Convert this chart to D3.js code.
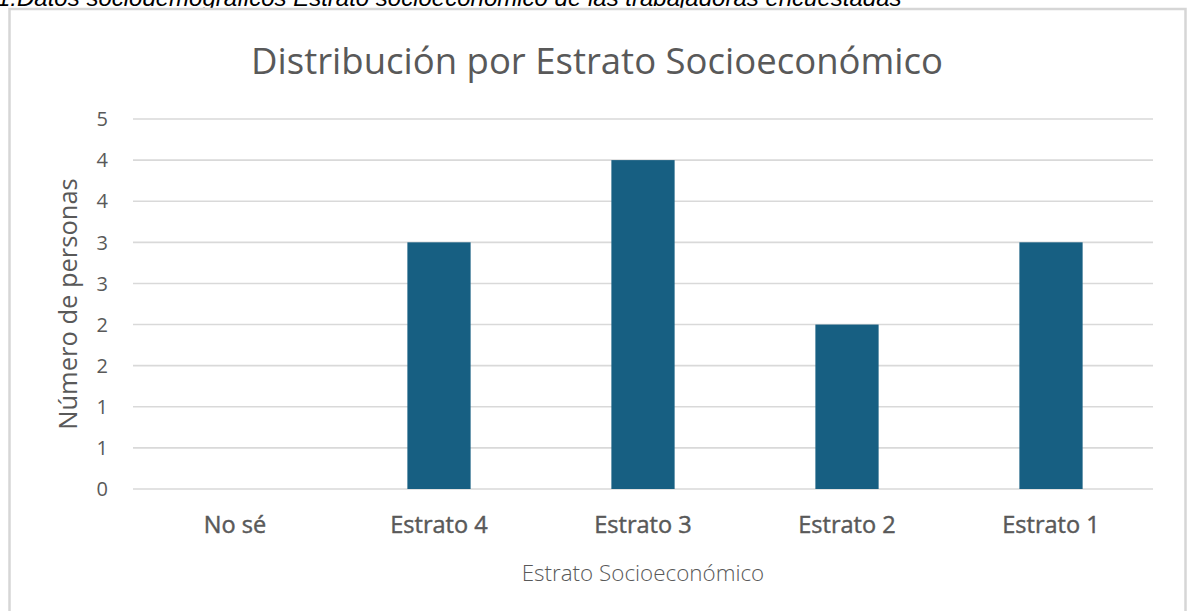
<!DOCTYPE html>
<html>
<head>
  <meta charset="utf-8" />
  <script src="https://d3js.org/d3.v7.min.js"></script>
  <style>
    body {
      margin: 0;
      background: #fff;
    }
    svg {
      display: block;
    }
  </style>
</head>
<body>
  <script>
    var categories = ["No sé", "Estrato 4", "Estrato 3", "Estrato 2", "Estrato 1"];
    var personas = [0, 3, 4, 2, 3];
    var yTicks = [0, 0.5, 1, 1.5, 2, 2.5, 3, 3.5, 4, 4.5];
    var yTickLabels = ["0", "1", "1", "2", "2", "3", "3", "4", "4", "5"];

    var W = 1189, H = 611;
    var plot = { left: 133, right: 1153, top: 119, bottom: 489 };

    var svg = d3.select("body")
      .append("svg")
      .attr("width", W)
      .attr("height", H);

    // caption above the chart (cut off at the top in the original)
    svg.append("text")
      .attr("x", -3)
      .attr("y", 6)
      .style("font", "italic 24px 'Liberation Sans', Arial, sans-serif")
      .style("fill", "#000")
      .text("1.Datos sociodemográficos Estrato socioeconómico de las trabajadoras encuestadas");

    // chart frame
    svg.append("rect")
      .attr("x", 9.5)
      .attr("y", 9)
      .attr("width", 1176)
      .attr("height", 640)
      .attr("fill", "#fff")
      .attr("stroke", "#d6d6d6")
      .attr("stroke-width", 2.5);

    var x = d3.scaleBand()
      .domain(categories)
      .range([plot.left, plot.right])
      .paddingInner(0.69)
      .paddingOuter(0.345);

    var y = d3.scaleLinear()
      .domain([0, 4.5])
      .range([plot.bottom, plot.top]);

    var font = "'Open Sans', sans-serif";

    // gridlines
    svg.append("g")
      .selectAll("line")
      .data(yTicks)
      .enter()
      .append("line")
      .attr("x1", plot.left)
      .attr("x2", plot.right)
      .attr("y1", function(d) { return y(d); })
      .attr("y2", function(d) { return y(d); })
      .attr("stroke", "#d9d9d9")
      .attr("stroke-width", 1.6);

    // y tick labels
    svg.append("g")
      .selectAll("text")
      .data(yTicks)
      .enter()
      .append("text")
      .attr("x", 108)
      .attr("y", function(d) { return y(d); })
      .attr("dy", "0.36em")
      .attr("text-anchor", "end")
      .style("font-family", font)
      .style("font-size", "20px")
      .style("fill", "#595959")
      .text(function(d, i) { return yTickLabels[i]; });

    // bars
    svg.append("g")
      .selectAll("rect")
      .data(personas)
      .enter()
      .append("rect")
      .attr("x", function(d, i) { return x(categories[i]); })
      .attr("y", function(d) { return y(d); })
      .attr("width", x.bandwidth())
      .attr("height", function(d) { return y(0) - y(d); })
      .attr("fill", "#175f82");

    // x category labels
    svg.append("g")
      .selectAll("text")
      .data(categories)
      .enter()
      .append("text")
      .attr("x", function(d) { return x(d) + x.bandwidth() / 2; })
      .attr("y", 533)
      .attr("text-anchor", "middle")
      .style("font-family", font)
      .style("font-size", "23.5px")
      .style("fill", "#595959")
      .style("stroke", "#595959")
      .style("stroke-width", 0.45)
      .text(function(d) { return d; });

    // title
    svg.append("text")
      .attr("x", 597)
      .attr("y", 74)
      .attr("text-anchor", "middle")
      .style("font-family", font)
      .style("font-size", "36.5px")
      .style("fill", "#595959")
      .text("Distribución por Estrato Socioeconómico");

    // axis titles
    svg.append("text")
      .attr("x", (plot.left + plot.right) / 2)
      .attr("y", 581)
      .attr("text-anchor", "middle")
      .style("font-family", font)
      .style("font-size", "22.4px")
      .style("font-weight", 300)
      .style("fill", "#595959")
      .text("Estrato Socioeconómico");

    svg.append("text")
      .attr("transform", "translate(77 304) rotate(-90)")
      .attr("text-anchor", "middle")
      .style("font-family", font)
      .style("font-size", "25.5px")
      .style("fill", "#595959")
      .text("Número de personas");
  </script>
</body>
</html>
